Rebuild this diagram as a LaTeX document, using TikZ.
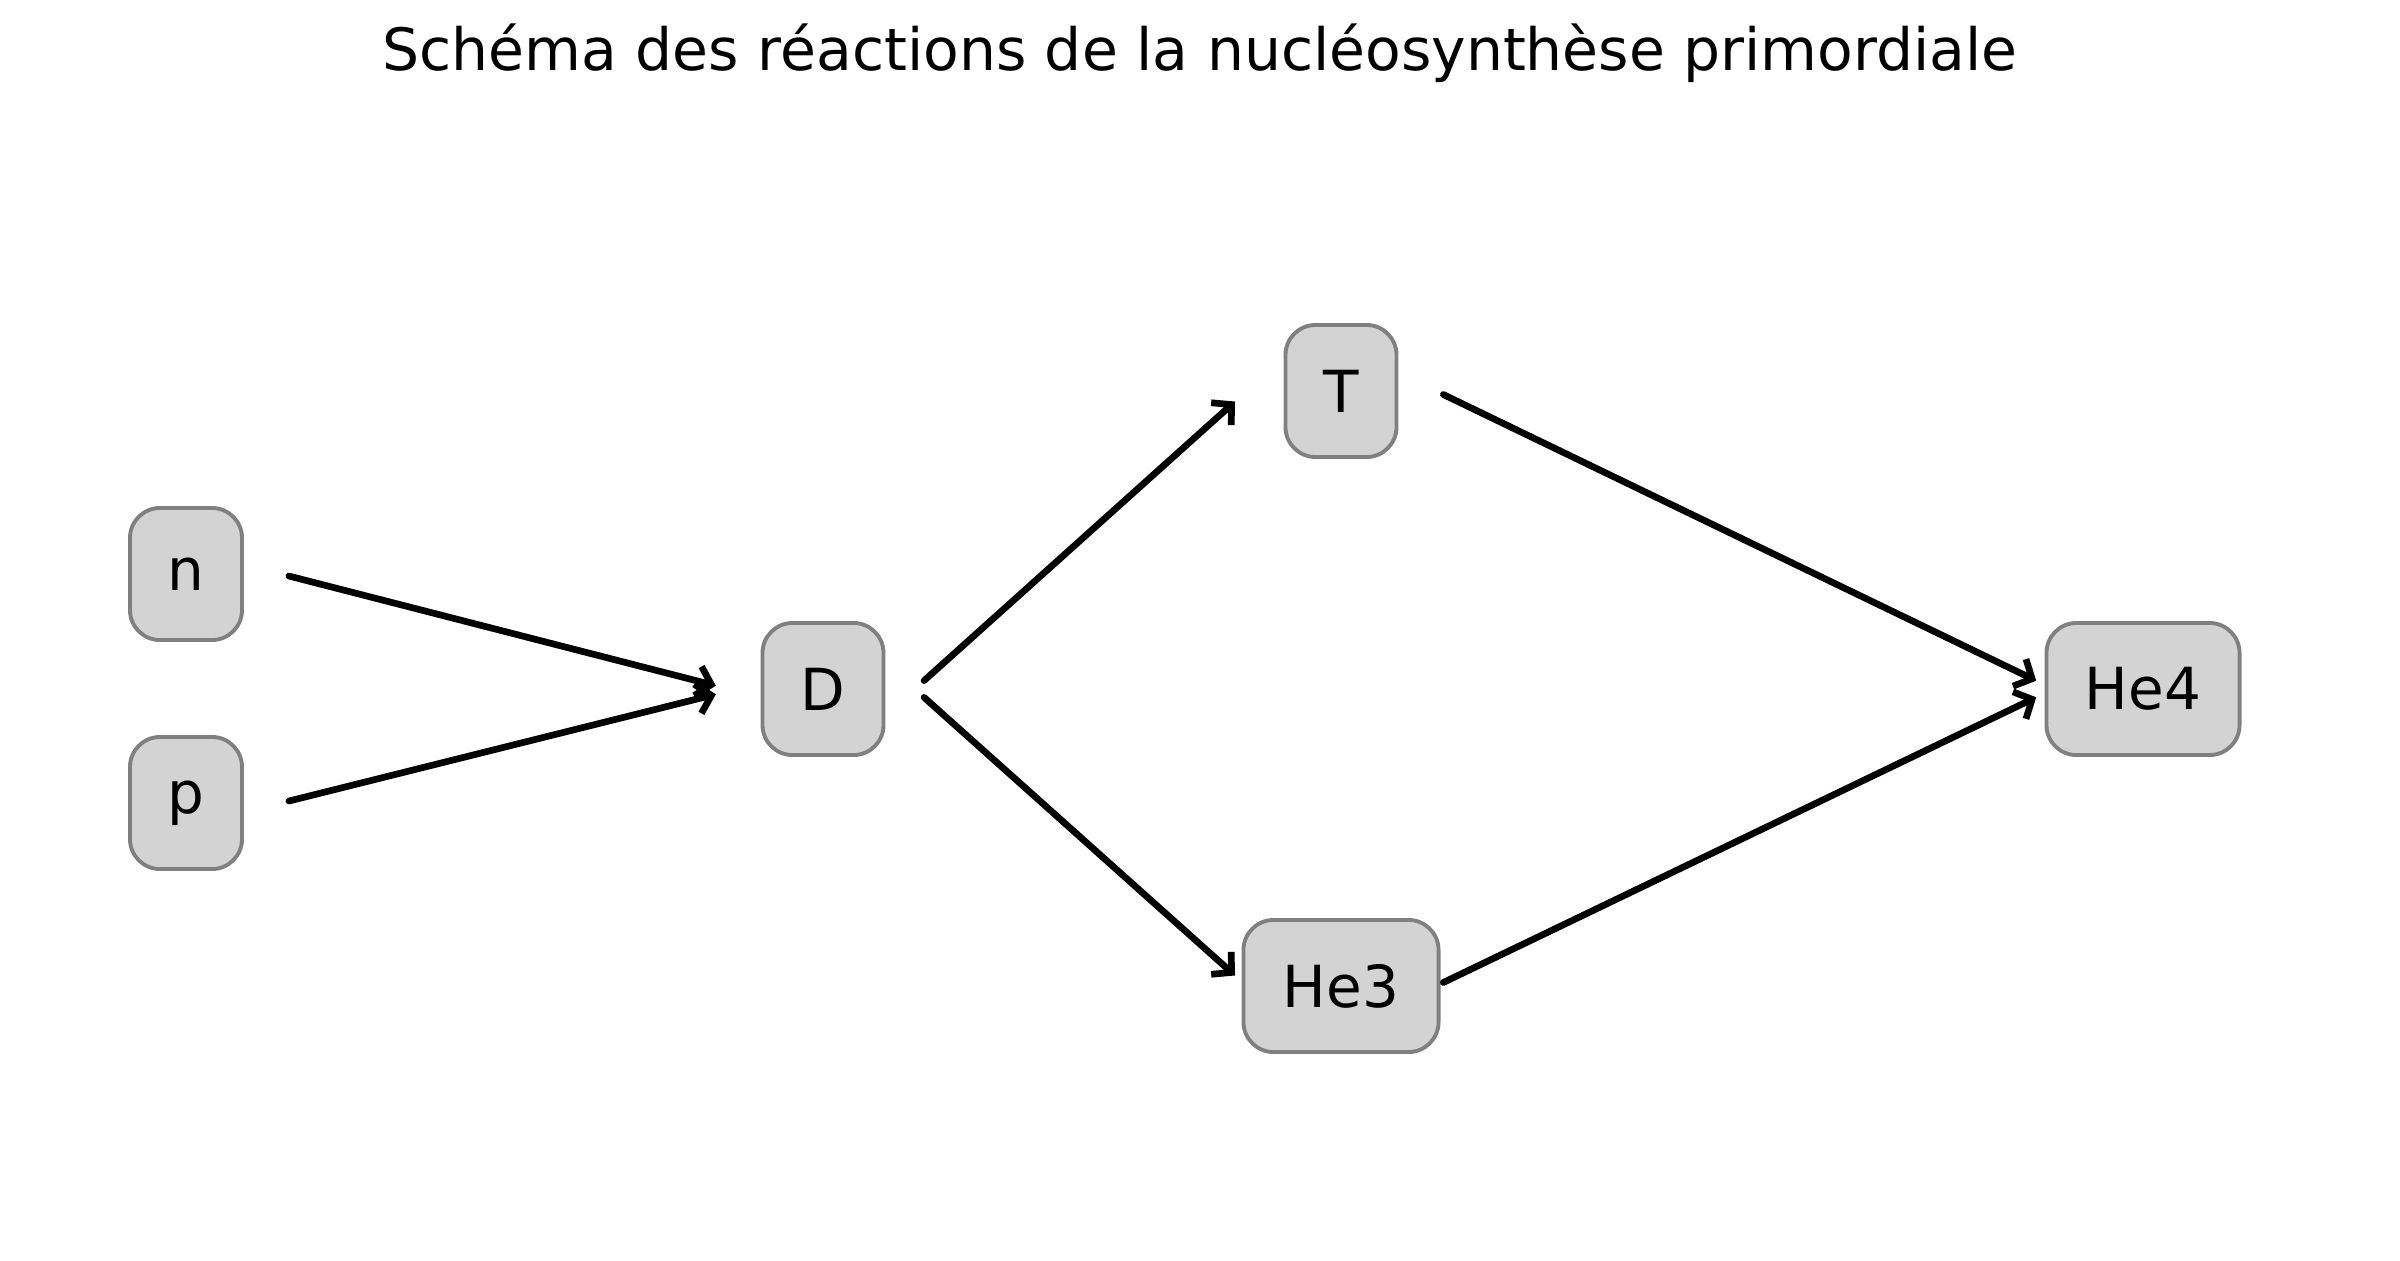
\documentclass[tikz,border=0pt]{standalone}
\usepackage{fontspec}
\setmainfont{DejaVu Sans}
\usetikzlibrary{arrows.meta}
\definecolor{boxfill}{HTML}{D3D3D3}
\definecolor{boxdraw}{HTML}{808080}
\begin{document}
\begin{tikzpicture}[x=0.01cm,y=-0.01cm,
  nbox/.style={draw=boxdraw,fill=boxfill,line width=1.1pt,rounded corners=0.3cm,
    minimum height=1.32cm,inner sep=0pt,font=\fontsize{16.5}{20}\selectfont},
  arr/.style={line width=1.9pt,line cap=round,line join=round,
    -{Straight Barb[length=0.14cm,width=0.3cm]},
    shorten <=2.3pt, shorten >=1.5pt}]
\useasboundingbox (0,0) rectangle (2400,1260);
\node[font=\fontsize{16.6}{20}\selectfont] (title) at (1200,53) {Schéma des réactions de la nucléosynthèse primordiale};
\node[nbox,minimum width=1.12cm] (n) at (186,574) {n};
\node[nbox,minimum width=1.12cm] (p) at (186,803) {p};
\node[nbox,minimum width=1.21cm] (D) at (823,689) {D};
\node[nbox,minimum width=1.11cm] (T) at (1341,391) {T};
\node[nbox,minimum width=1.95cm] (He3) at (1341,986) {He3};
\node[nbox,minimum width=1.93cm] (He4) at (2143,689) {He4};
\draw[arr] ([xshift=0.95cm]n.center) -- ([xshift=-1.02cm,yshift=0.02cm]D.center);
\draw[arr] ([xshift=0.95cm]p.center) -- ([xshift=-1.02cm,yshift=-0.04cm]D.center);
\draw[arr] ([xshift=0.95cm,yshift=0.03cm]D.center) -- ([xshift=-1.02cm,yshift=-0.07cm]T.center);
\draw[arr] ([xshift=0.95cm,yshift=-0.03cm]D.center) -- ([xshift=-1.02cm,yshift=0.07cm]He3.center);
\draw[arr] ([xshift=0.95cm]T.center) -- ([xshift=-1.02cm,yshift=0.06cm]He4.center);
\draw[arr] ([xshift=0.95cm]He3.center) -- ([xshift=-1.02cm,yshift=-0.06cm]He4.center);
\end{tikzpicture}
\end{document}
